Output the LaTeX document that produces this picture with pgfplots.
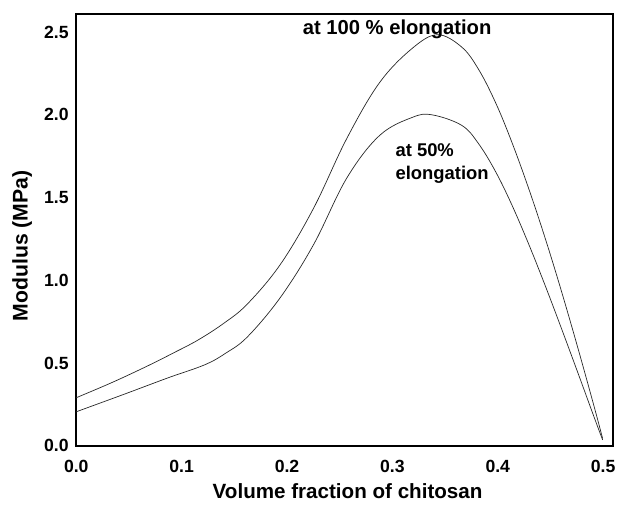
\documentclass[border=0pt]{standalone}
\usepackage{fontspec}
\setmainfont{Liberation Sans}
\usepackage{pgfplots}
\pgfplotsset{compat=1.18}
\begin{document}
\begin{tikzpicture}
\begin{axis}[
  name=ax,
  scale only axis,
  width=271pt, height=218pt,
  xmin=0, xmax=0.5094,
  ymin=0, ymax=2.611,
  xtick={0,0.1,0.2,0.3,0.4,0.5},
  ytick={0,0.5,1.0,1.5,2.0,2.5},
  major tick length=0pt,
  axis line style={line width=1pt},
  /pgf/number format/assume math mode=true,
  xticklabel style={/pgf/number format/.cd,fixed,fixed zerofill,precision=1},
  yticklabel style={/pgf/number format/.cd,fixed,fixed zerofill,precision=1},
  ticklabel style={font=\bfseries\fontsize{8.9}{10}\selectfont},
  xticklabel shift=4pt,
  yticklabel shift=0.3pt,
  xlabel={Volume fraction of chitosan},
  ylabel={Modulus (MPa)},
  xlabel style={font=\bfseries\fontsize{10.4}{12}\selectfont, at={(rel axis cs:0.5055,-0.1055)}, anchor=center},
  ylabel style={font=\bfseries\fontsize{10.7}{12}\selectfont, at={(rel axis cs:-0.1006,0.463)}, anchor=center},
  clip=false,
]
\addplot[black!85, line width=0.35pt, smooth, tension=0.6] coordinates {
(0.000,0.29) (0.035,0.385) (0.0686,0.485) (0.092,0.560) (0.1156,0.639) (0.140,0.740)
(0.1626,0.858) (0.1939,1.098) (0.2253,1.437) (0.2566,1.856) (0.2879,2.196)
(0.3193,2.405) (0.343,2.485) (0.366,2.409) (0.382,2.273) (0.398,2.073)
(0.413,1.841) (0.429,1.561) (0.445,1.254) (0.460,0.943) (0.476,0.591)
(0.4915,0.235) (0.4995,0.043)
};
\addplot[black!85, line width=0.35pt, smooth, tension=0.6] coordinates {
(0.000,0.205) (0.045,0.31) (0.087,0.41) (0.1219,0.489) (0.142,0.560) (0.1626,0.659)
(0.1939,0.898) (0.2253,1.217) (0.2566,1.617) (0.2879,1.876) (0.3193,1.986)
(0.338,2.00) (0.366,1.936) (0.382,1.824) (0.398,1.656) (0.413,1.461)
(0.429,1.224) (0.445,0.968) (0.460,0.716) (0.476,0.441) (0.4915,0.171) (0.4995,0.035)
};
\node[font=\bfseries\fontsize{10.2}{12}\selectfont, anchor=base] at (axis cs:0.3045,2.485) {at 100 \% elongation};
\node[font=\bfseries\fontsize{9.3}{11}\selectfont, anchor=base west, inner sep=0pt] at (axis cs:0.3026,1.749) {at 50\%};
\node[font=\bfseries\fontsize{9.3}{11}\selectfont, anchor=base west, inner sep=0pt] at (axis cs:0.3026,1.611) {elongation};
\end{axis}
\path (ax.south west) ++(-38.5pt,-30pt) coordinate (bl);
\path (ax.north east) ++(1.5pt,7pt) coordinate (tr);
\path[use as bounding box] (bl) rectangle (tr);
\end{tikzpicture}
\end{document}
